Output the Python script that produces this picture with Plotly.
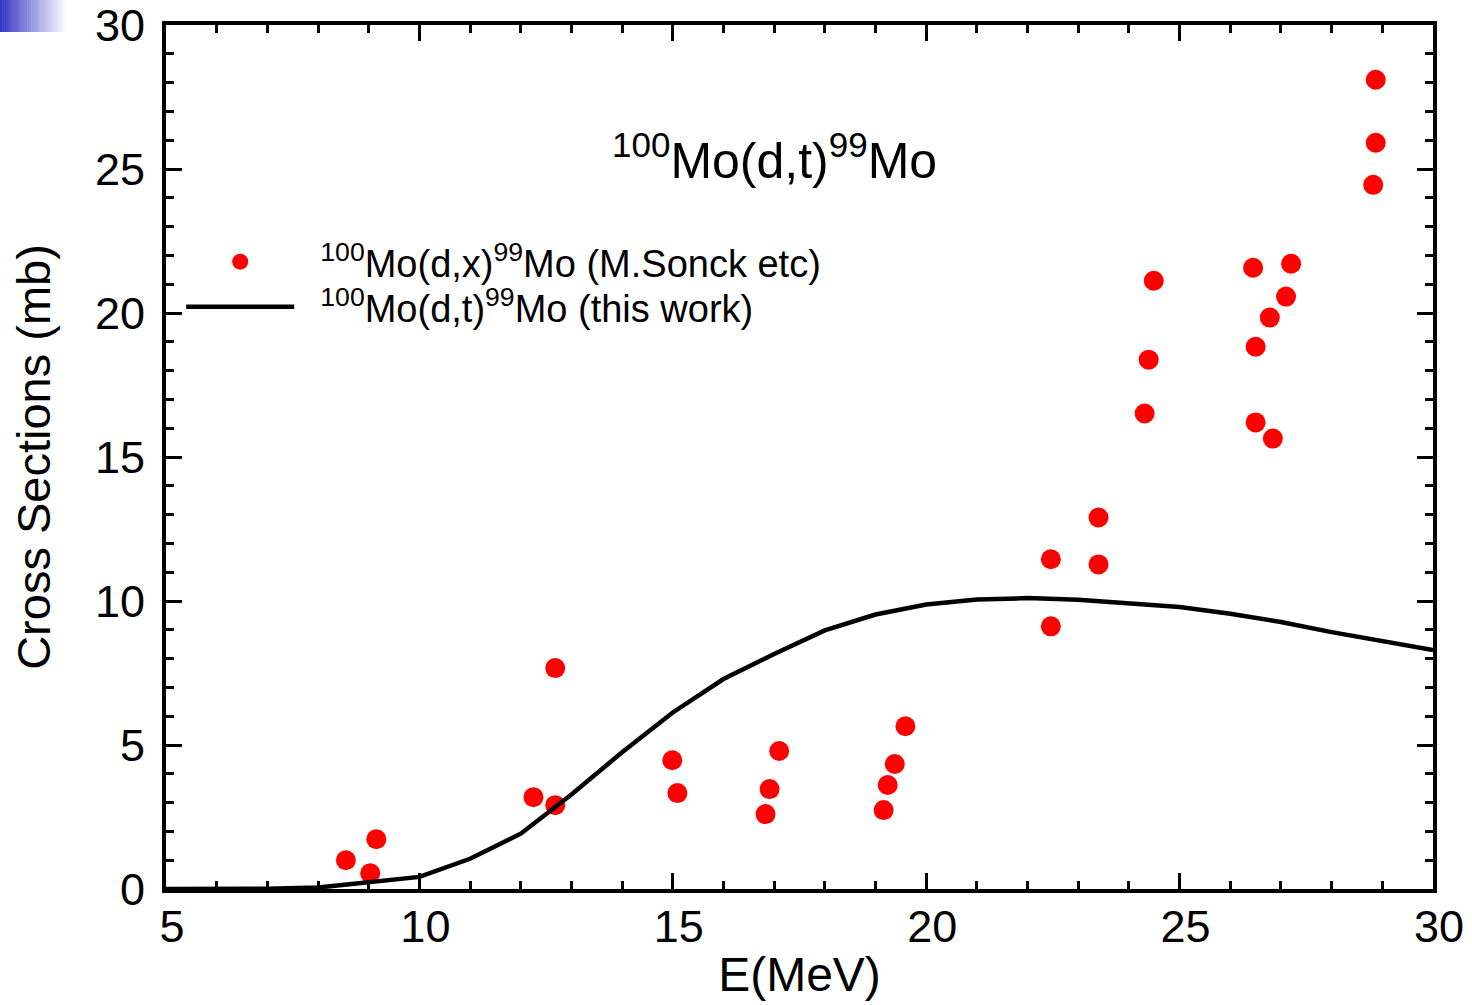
import plotly.graph_objects as go

# Experimental data (M.Sonck etc)
exp_e = [8.55, 9.03, 9.15, 12.25, 12.68, 12.68, 14.99, 15.09, 16.83, 16.91, 17.10,
         19.16, 19.24, 19.38, 19.59, 22.46, 22.46, 23.40, 23.40, 24.31, 24.39, 24.49,
         26.45, 26.50, 26.50, 26.78, 26.84, 27.10, 27.20, 28.82, 28.87, 28.87]
exp_xs = [1.00, 0.55, 1.73, 3.19, 7.67, 2.91, 4.47, 3.33, 2.60, 3.47, 4.79,
          2.74, 3.61, 4.34, 5.65, 11.45, 9.12, 12.90, 11.27, 16.51, 18.38, 21.12,
          21.57, 18.83, 16.20, 19.84, 15.64, 20.57, 21.71, 24.45, 25.91, 28.10]

# Calculation (this work)
calc_e = [5, 6, 7, 8, 9, 10, 11, 12, 13, 14, 15, 16, 17, 18, 19, 20, 21, 22, 23, 24,
          25, 26, 27, 28, 29, 30]
calc_xs = [0.0, 0.0, 0.01, 0.05, 0.22, 0.42, 1.05, 1.92, 3.28, 4.75, 6.13, 7.29, 8.16,
           8.98, 9.53, 9.88, 10.05, 10.10, 10.04, 9.91, 9.79, 9.56, 9.27, 8.92, 8.63, 8.30]

FONT = "Liberation Sans, Arial, Helvetica, sans-serif"

fig = go.Figure()
fig.add_trace(go.Scatter(
    x=exp_e, y=exp_xs, mode="markers",
    marker=dict(color="#ff0000", size=20, line=dict(width=0)),
    legend="legend",
    name="\u00a0\u00a0<sup>100</sup>Mo(d,x)<sup>99</sup>Mo (M.Sonck etc)"))
fig.add_trace(go.Scatter(
    x=calc_e, y=calc_xs, mode="lines",
    line=dict(color="black", width=4.5),
    legend="legend2",
    name="\u00a0\u00a0<sup>100</sup>Mo(d,t)<sup>99</sup>Mo (this work)"))

axis_common = dict(
    showline=True, linecolor="black", linewidth=4, mirror="allticks",
    ticks="inside", ticklen=16, tickwidth=3, tickcolor="black",
    showgrid=False, zeroline=False, ticklabeloverflow="allow", automargin=False,
    tickfont=dict(family=FONT, size=45, color="black"),
)

fig.update_xaxes(range=[5, 30], dtick=5, tick0=5, ticklabelshift=6, ticklabelstandoff=-5,
                 minor=dict(dtick=1, ticks="inside", ticklen=8, tickwidth=3, tickcolor="black"),
                 title=dict(text="E(MeV)", standoff=7, font=dict(family=FONT, size=48, color="black")),
                 **axis_common)
fig.update_yaxes(range=[0, 30], dtick=5, tick0=0, ticklabelstandoff=8,
                 minor=dict(dtick=1, ticks="inside", ticklen=8, tickwidth=3, tickcolor="black"),
                 title=dict(text="Cross Sections (mb)", standoff=30, font=dict(family=FONT, size=47, color="black")),
                 **axis_common)

fig.add_annotation(x=17.0, y=25.4, xref="x", yref="y",
                   text="<sup>100</sup>Mo(d,t)<sup>99</sup>Mo", showarrow=False,
                   font=dict(family=FONT, size=50, color="black"))

# small gradient block in top-left corner
n = 30
x0p, x1p = 0, 67
for i in range(n):
    t = i / (n - 1)
    r = int(0x38 + (255 - 0x38) * t)
    g = int(0x38 + (255 - 0x38) * t)
    b = int(0xc8 + (255 - 0xc8) * t)
    a = x0p + (x1p - x0p) * i / n
    c = x0p + (x1p - x0p) * (i + 1) / n
    fig.add_shape(type="rect", xref="paper", yref="paper",
                  x0=(a - 166) / 1267, x1=(c + 0.5 - 166) / 1267,
                  y0=(889 - 32) / 864, y1=(889 + 0) / 864,
                  line=dict(width=0), fillcolor=f"rgb({r},{g},{b})", layer="below")

leg_common = dict(xanchor="left", yanchor="middle", bgcolor="rgba(0,0,0,0)", borderwidth=0,
                  font=dict(family=FONT, size=38, color="black"), itemwidth=108)

fig.update_layout(
    width=1472, height=1005,
    margin=dict(l=166, r=39, t=25, b=116),
    paper_bgcolor="white", plot_bgcolor="white",
    showlegend=True,
    legend=dict(x=0.012, y=(889 - 262) / 864, **leg_common),
    legend2=dict(x=0.012, y=(889 - 307) / 864, **leg_common),
)

fig.write_html("out.html")
